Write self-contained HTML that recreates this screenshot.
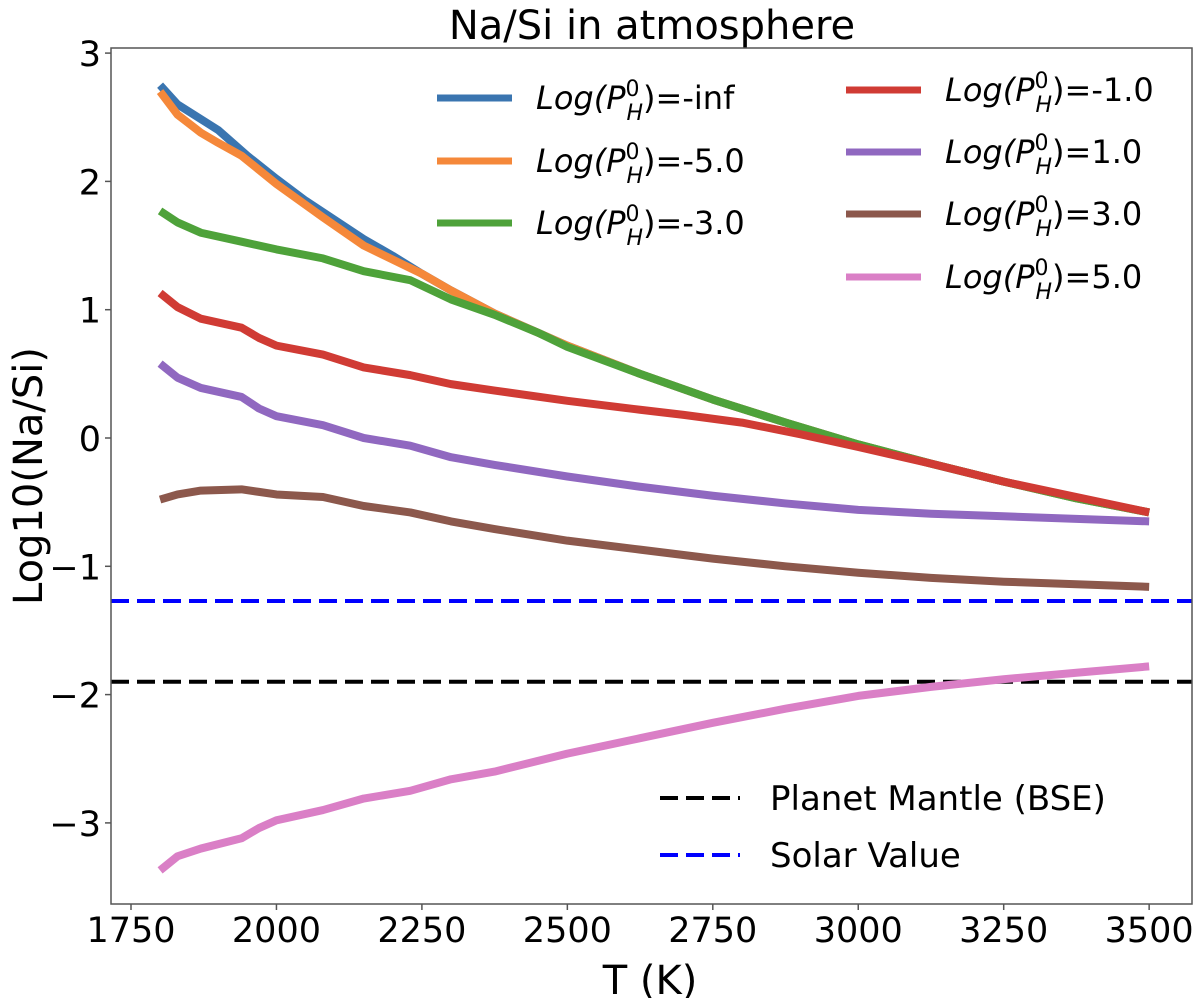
<!DOCTYPE html>
<html><head><meta charset="utf-8"><style>
body{margin:0;background:#fff}
svg{font-family:"DejaVu Sans","Liberation Sans",sans-serif}
</style></head><body>
<svg id="chart" width="1200" height="998" xmlns="http://www.w3.org/2000/svg">
<rect width="1200" height="998" fill="#fff"/>
<text x="652" y="39" font-size="40" text-anchor="middle">Na/Si in atmosphere</text>
<g id="plot"></g>
<rect x="111" y="48" width="1081" height="856" fill="none" stroke="#555" stroke-width="1.5"/>
<text x="650" y="994" font-size="40" text-anchor="middle">T (K)</text>
<text transform="translate(42,476) rotate(-90)" font-size="40" text-anchor="middle">Log10(Na/Si)</text>
<g id="legend"></g>
</svg>
<script>
const xTicks=[1750,2000,2250,2500,2750,3000,3250,3500];
const yTicks=[-3,-2,-1,0,1,2,3];
const T_inf=[1800,1830,1900,1950,2000,2050,2100,2150,2200,2250,2300,2375,2500,2625,2750,2875,3000,3125,3250,3375,3500];
const V_inf=[2.75,2.6,2.4,2.2,2.02,1.85,1.7,1.55,1.42,1.28,1.15,0.97,0.72,0.5,0.3,0.12,-0.05,-0.2,-0.34,-0.47,-0.58];
const T_m5=[1800,1830,1870,1900,1940,2000,2080,2150,2250,2300,2375,2500,2625,2750,2875,3000,3125,3250,3375,3500];
const V_m5=[2.7,2.52,2.38,2.3,2.2,1.98,1.72,1.5,1.28,1.15,0.97,0.72,0.5,0.3,0.12,-0.05,-0.2,-0.34,-0.47,-0.58];
const T_m3=[1800,1830,1870,1940,2000,2080,2150,2230,2300,2375,2450,2500,2625,2750,2875,3000,3125,3250,3375,3500];
const V_m3=[1.77,1.68,1.6,1.53,1.47,1.4,1.3,1.23,1.08,0.96,0.82,0.71,0.5,0.3,0.12,-0.05,-0.2,-0.34,-0.47,-0.58];
const T_s=[1800,1830,1870,1940,1970,2000,2080,2150,2230,2300,2375,2500,2625,2750,2875,3000,3125,3250,3375,3500];
const T_m1=[1800,1830,1870,1940,1970,2000,2080,2150,2230,2300,2375,2500,2625,2700,2800,2900,3000,3125,3250,3375,3500];
const V_m1=[1.13,1.02,0.93,0.86,0.78,0.72,0.65,0.55,0.49,0.42,0.37,0.29,0.22,0.18,0.12,0.03,-0.07,-0.2,-0.34,-0.46,-0.58];
const V_p1=[0.58,0.47,0.39,0.32,0.23,0.17,0.1,0.0,-0.06,-0.15,-0.21,-0.3,-0.38,-0.45,-0.51,-0.56,-0.59,-0.61,-0.63,-0.65];
const V_p3=[-0.48,-0.44,-0.41,-0.40,-0.42,-0.44,-0.46,-0.53,-0.58,-0.65,-0.71,-0.8,-0.87,-0.94,-1.0,-1.05,-1.09,-1.12,-1.14,-1.16];
const V_p5=[-3.37,-3.26,-3.2,-3.12,-3.04,-2.98,-2.9,-2.81,-2.75,-2.66,-2.6,-2.46,-2.34,-2.22,-2.11,-2.01,-1.94,-1.88,-1.83,-1.78];
const refBSE=-1.9, refSolar=-1.27;
const xs=t=>131+(t-1750)*0.5818;
const ys=v=>438-v*128.3;
const NS="http://www.w3.org/2000/svg";
const plot=document.getElementById('plot'), svg=document.getElementById('chart'), leg=document.getElementById('legend');
function mk(tag,attrs,parent){const e=document.createElementNS(NS,tag);for(const k in attrs)e.setAttribute(k,attrs[k]);parent.appendChild(e);return e;}
xTicks.forEach(t=>{
  const l=mk('line',{x1:xs(t),x2:xs(t),y1:904,y2:910,stroke:'#555','stroke-width':1.5},svg);
  
  
  const tx=mk('text',{x:xs(t),y:942,'font-size':35,'text-anchor':'middle'},svg);tx.textContent=t;
  
  
});
yTicks.forEach(v=>{
  const l=mk('line',{x1:105,x2:111,y1:ys(v),y2:ys(v),stroke:'#555','stroke-width':1.5},svg);
  
  
  const tx=mk('text',{x:101,y:ys(v)+13,'font-size':35,'text-anchor':'end'},svg);tx.textContent=(v<0?'\u2212'+(-v):v);
  
  
});
const series=[
 {n:'series-minus-inf',T:T_inf,V:V_inf,c:'#3a75b0'},
 {n:'series-minus-5',T:T_m5,V:V_m5,c:'#f5883a'},
 {n:'series-minus-3',T:T_m3,V:V_m3,c:'#4ea23a'},
 {n:'series-minus-1',T:T_m1,V:V_m1,c:'#d03b34'},
 {n:'series-plus-1',T:T_s,V:V_p1,c:'#9068c0'},
 {n:'series-plus-3',T:T_s,V:V_p3,c:'#8c584c'},
 {n:'series-plus-5',T:T_s,V:V_p5,c:'#da7fc6'}
];
const hl=mk('line',{x1:111,x2:1192,y1:ys(refBSE),y2:ys(refBSE),stroke:'#000','stroke-width':4,'stroke-dasharray':'18 8'},plot);


const hs=mk('line',{x1:111,x2:1192,y1:ys(refSolar),y2:ys(refSolar),stroke:'#0000ff','stroke-width':4,'stroke-dasharray':'18 8'},plot);


series.forEach(s=>{
  const p=mk('polyline',{points:s.T.map((t,i)=>xs(t)+','+ys(s.V[i])).join(' '),fill:'none',stroke:s.c,'stroke-width':8,'stroke-linejoin':'round'},plot);
  
  
});
const legItems=[
 ['-inf',0,437,98],['-5.0',1,437,161],['-3.0',2,437,223],
 ['-1.0',3,846,90],['1.0',4,846,152],['3.0',5,846,214],['5.0',6,846,277]
];
legItems.forEach(([lab,i,x,y])=>{
  const g=mk('g',{},leg);
  
  
  mk('line',{x1:x,x2:x+75,y1:y,y2:y,stroke:series[i].c,'stroke-width':7},g);
  const t=mk('text',{x:x+99,y:y+11,'font-size':32},g);
  t.innerHTML='<tspan font-style="italic">Log(P</tspan><tspan font-size="22" dy="-13">0</tspan><tspan font-style="italic" font-size="22" dx="-13" dy="24">H</tspan><tspan dy="-11">)='+lab+'</tspan>';
});
[['Planet Mantle (BSE)','#000',798],['Solar Value','#0000ff',855]].forEach(([lab,c,y])=>{
  const g=mk('g',{},leg);
  
  
  mk('line',{x1:660,x2:740,y1:y,y2:y,stroke:c,'stroke-width':4,'stroke-dasharray':'18 8'},g);
  const t=mk('text',{x:770,y:y+12,'font-size':34},g);t.textContent=lab;
});
</script>
</body></html>
